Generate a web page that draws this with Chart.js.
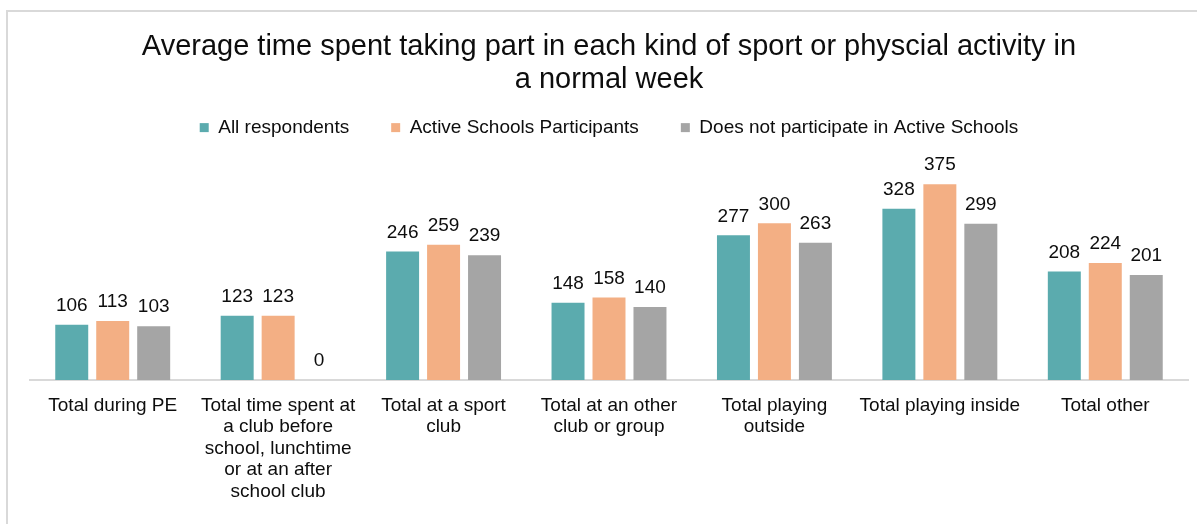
<!DOCTYPE html>
<html>
<head>
<meta charset="utf-8">
<script src="https://cdn.jsdelivr.net/npm/chart.js@4"></script>
<style>
  html, body { margin: 0; padding: 0; background: #fff; overflow: hidden; }
  #frame {
    position: absolute; left: 6px; top: 10px;
    width: 1204px; height: 530px;
    border: 2px solid #d9d9d9;
  }
  canvas { display: block; }
</style>
</head>
<body>
<div id="frame"><canvas id="sportChart" width="1204" height="498"></canvas></div>
<script>
// categories (wrapped the way the axis shows them)
var categories = [
    "Total during PE",
    ["Total time spent at", "a club before", "school, lunchtime", "or at an after", "school club"],
    ["Total at a sport", "club"],
    ["Total at an other", "club or group"],
    ["Total playing", "outside"],
    "Total playing inside",
    "Total other"
];

// series values
var allRespondents = [106, 123, 246, 148, 277, 328, 208];
var activeSchools = [113, 123, 259, 158, 300, 375, 224];
var notActiveSchools = [103, 0, 239, 140, 263, 299, 201];

var FONT = "'Liberation Sans', Arial, sans-serif";

// numbers written above each bar
var valueLabels = {
    id: 'valueLabels',
    afterDatasetsDraw: function(chart) {
        var ctx = chart.ctx;
        ctx.save();
        ctx.font = '19px ' + FONT;
        ctx.fillStyle = '#0d0d0d';
        ctx.textAlign = 'center';
        ctx.textBaseline = 'middle';
        chart.data.datasets.forEach(function(ds, i) {
            chart.getDatasetMeta(i).data.forEach(function(bar, j) {
                ctx.fillText(ds.data[j], bar.x, bar.y - 19);
            });
        });
        ctx.restore();
    }
};

// leave some room between the legend and the bars
var legendGap = {
    id: 'legendGap',
    beforeInit: function(chart) {
        var fit = chart.legend.fit;
        chart.legend.fit = function() {
            fit.bind(chart.legend)();
            this.height += 24;
        };
    }
};

var ctx = document.getElementById('sportChart').getContext('2d');
new Chart(ctx, {
    type: 'bar',
    data: {
        labels: categories,
        datasets: [{
            label: 'All respondents',
            data: allRespondents,
            backgroundColor: '#5babae'
        }, {
            label: 'Active Schools Participants',
            data: activeSchools,
            backgroundColor: '#f3af84'
        }, {
            label: 'Does not participate in Active Schools',
            data: notActiveSchools,
            backgroundColor: '#a5a5a5'
        }]
    },
    options: {
        responsive: false,
        animation: false,
        categoryPercentage: 0.743,
        barPercentage: 0.805,
        layout: { padding: { left: 22, right: 24, top: 0, bottom: 0 } },
        plugins: {
            title: {
                display: true,
                text: ['Average time spent taking part in each kind of sport or physcial activity in', 'a normal week'],
                color: '#0d0d0d',
                font: { family: FONT, size: 29, weight: 'normal', lineHeight: 1.14 },
                padding: { top: 18, bottom: -20 }
            },
            legend: {
                position: 'top',
                labels: {
                    boxWidth: 9,
                    boxHeight: 9,
                    padding: 42,
                    color: '#0d0d0d',
                    font: { family: FONT, size: 19 }
                }
            },
            tooltip: { enabled: false }
        },
        scales: {
            x: {
                grid: { display: false },
                border: { display: true, color: '#d9d9d9', width: 2 },
                ticks: {
                    maxRotation: 0,
                    autoSkip: false,
                    padding: 7,
                    color: '#0d0d0d',
                    font: { family: FONT, size: 19, lineHeight: 1.13 }
                },
                afterFit: function(scale) { scale.height = 130; }
            },
            y: {
                display: false,
                min: 0,
                max: 400
            }
        }
    },
    plugins: [valueLabels, legendGap]
});
</script>
</body>
</html>
